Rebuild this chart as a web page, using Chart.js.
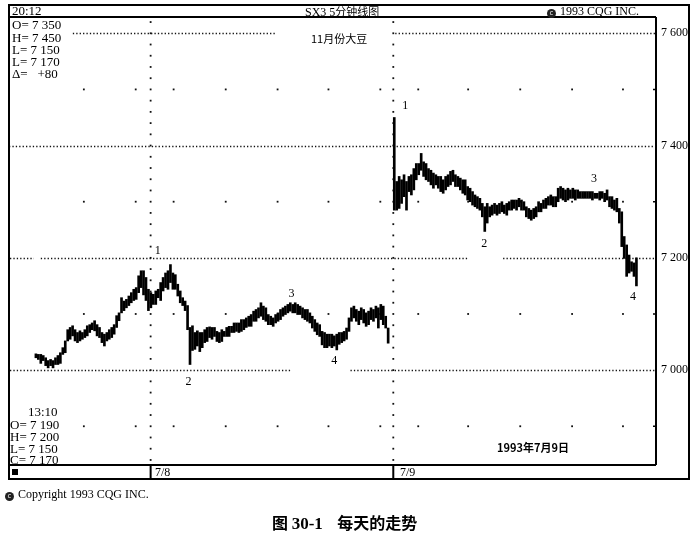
<!DOCTYPE html>
<html><head><meta charset="utf-8">
<script src="https://cdn.jsdelivr.net/npm/chart.js@4"></script>
<style>
html,body{margin:0;padding:0;background:#fff;}
#wrap{position:relative;width:696px;height:540px;overflow:hidden;background:#fff;}
canvas{position:absolute;left:0;top:0;}
.t{position:absolute;white-space:nowrap;font-family:"Liberation Serif","Times New Roman",serif;color:#000;font-size:12px;line-height:14px;}
.cjk{font-family:"Noto Sans CJK SC",sans-serif;}
.ci{display:inline-block;width:9px;height:9px;border-radius:50%;background:#222;color:#fff;font-size:7px;line-height:9px;text-align:center;vertical-align:0px;font-family:"DejaVu Sans",sans-serif;margin-right:4px;}
.wl{position:absolute;font-family:"Liberation Serif",serif;font-size:12px;color:#000;line-height:12px;transform:translate(-50%,-50%);}
</style></head>
<body><div id="wrap">
<canvas id="c" width="696" height="540"></canvas>
<div class="t" style="left:12px;top:4px;font-size:13px;">20:12</div>
<div class="t" style="left:305px;top:4px;">SX3 5<span class="cjk" style="font-size:11px">分钟线图</span></div>
<div class="t" style="left:547px;top:4px;"><span class="ci">c</span>1993 CQG INC.</div>
<div class="t" style="left:12px;top:18px;font-size:13px;">O= 7 350</div>
<div class="t" style="left:12px;top:31px;font-size:13px;">H= 7 450</div>
<div class="t" style="left:12px;top:43px;font-size:13px;">L= 7 150</div>
<div class="t" style="left:12px;top:55px;font-size:13px;">L= 7 170</div>
<div class="t" style="left:12px;top:67px;font-size:13px;">&Delta;=&nbsp;&nbsp;&nbsp;+80</div>
<div class="t cjk" style="left:311px;top:31px;font-size:11px;">11月份大豆</div>
<div class="t" style="left:28px;top:405px;font-size:13px;">13:10</div>
<div class="t" style="left:10px;top:418px;font-size:13px;">O= 7 190</div>
<div class="t" style="left:10px;top:430px;font-size:13px;">H= 7 200</div>
<div class="t" style="left:10px;top:442px;font-size:13px;">L= 7 150</div>
<div class="t" style="left:10px;top:453px;font-size:13px;">C= 7 170</div>
<div class="t cjk" style="left:497px;top:440px;font-size:11px;font-weight:bold;">1993年7月9日</div>
<div class="t" style="left:155px;top:465px;">7/8</div>
<div class="t" style="left:400px;top:465px;">7/9</div>
<div class="t" style="left:5px;top:487px;font-size:12px;"><span class="ci">c</span>Copyright 1993 CQG INC.</div>
<div class="t cjk" style="left:272px;top:512px;font-size:16px;line-height:20px;font-weight:bold;">图 <span style="font-family:'Liberation Serif',serif;font-size:17px;">30-1</span>&nbsp;&nbsp;&nbsp;&nbsp;每天的走势</div>
</div>
<script>
// ---- data ----
const day1High = [7029,7028,7028,7026,7022,7017,7019,7017,7022,7026,7031,7040,7052,7072,7076,7079,7072,7067,7070,7067,
7072,7079,7081,7084,7088,7081,7076,7067,7064,7067,7072,7076,7081,7097,7102,7129,7123,7126,7132,7138,
7144,7147,7168,7177,7177,7165,7144,7138,7135,7141,7144,7156,7165,7173,7177,7188,7173,7170,7153,7141,
7129,7123,7115,7076,7079,7067,7070,7067,7067,7072,7076,7077,7076,7076,7069,7067,7072,7069,7076,7078,
7078,7084,7084,7084,7090,7090,7093,7096,7099,7105,7108,7111,7120,7114,7111,7099,7096,7093,7099,7102,
7108,7111,7114,7117,7120,7117,7120,7117,7114,7111,7108,7108,7102,7096,7090,7084,7081,7069,7067,7064,
7064,7064,7061,7064,7067,7067,7069,7075,7093,7111,7114,7108,7105,7111,7108,7102,7105,7111,7108,7114,
7111,7117,7114,7096,7075];
const day1Low = [7022,7019,7012,7017,7008,7004,7008,7004,7010,7010,7012,7028,7031,7052,7055,7061,7052,7049,7052,7055,
7058,7061,7067,7072,7070,7061,7058,7049,7043,7052,7055,7058,7064,7076,7088,7102,7106,7111,7115,7120,
7124,7126,7138,7147,7134,7124,7106,7111,7117,7117,7129,7124,7141,7147,7144,7156,7144,7144,7132,7120,
7115,7106,7072,7010,7035,7037,7043,7033,7040,7049,7051,7058,7055,7060,7051,7049,7051,7060,7060,7060,
7067,7067,7069,7067,7069,7072,7076,7078,7078,7087,7087,7093,7096,7090,7087,7081,7081,7078,7084,7087,
7090,7096,7099,7102,7105,7102,7102,7099,7099,7093,7090,7087,7084,7075,7069,7063,7060,7045,7040,7040,
7043,7040,7043,7036,7046,7049,7052,7055,7069,7087,7093,7087,7081,7090,7084,7078,7081,7090,7087,7093,
7075,7090,7081,7075,7048];
const day2High = [7450,7336,7345,7339,7348,7336,7345,7348,7359,7368,7368,7386,7371,7368,7359,7356,7351,7348,7345,7345,
7339,7345,7348,7354,7356,7348,7345,7342,7339,7339,7327,7324,7318,7312,7309,7306,7297,7291,7297,7291,
7294,7297,7294,7297,7300,7294,7297,7300,7303,7303,7303,7306,7303,7300,7291,7288,7285,7288,7291,7300,
7297,7303,7306,7309,7312,7309,7309,7324,7327,7324,7321,7324,7321,7324,7321,7321,7318,7318,7318,7318,
7318,7318,7315,7315,7318,7318,7315,7321,7309,7309,7303,7306,7288,7282,7238,7223,7205,7193,7191,7200];
const day2Low = [7285,7285,7288,7297,7309,7285,7318,7312,7321,7339,7348,7356,7345,7339,7336,7330,7324,7330,7324,7318,
7315,7321,7327,7330,7336,7327,7327,7321,7315,7312,7303,7300,7294,7291,7288,7285,7273,7247,7262,7273,
7276,7279,7276,7279,7282,7279,7276,7285,7285,7288,7285,7291,7285,7285,7273,7270,7267,7270,7273,7282,
7282,7288,7288,7294,7294,7291,7291,7300,7306,7303,7300,7303,7306,7306,7303,7306,7306,7306,7306,7306,
7306,7303,7306,7306,7303,7306,7300,7303,7291,7288,7285,7282,7262,7220,7199,7167,7173,7176,7167,7150];
const yTickValues = [7000, 7200, 7400, 7600];
const minorPriceRows = [6900, 7100, 7300, 7500];
const timeGridSlots = [19.6, 40.8, 56.3, 77.6, 98.8, 119.6, 140.8, 156.3, 176.7, 198.0, 219.2, 240.0];
const sessionSeparators = [46.9, 146.1];
const day2StartSlot = 146.5;
const waveLabels = ["1", "2", "3", "4", "1", "2", "3", "4"];
const waveLabelSlots = [49.8, 62.4, 104.5, 122, 151, 183.3, 228.2, 244.1];
const waveLabelPrices = [7214, 6981, 7138, 7018, 7472, 7227, 7343, 7132];

// ---- build ----
const bars = day1High.map((h, i) => ({x: i, y: [day1Low[i], h]}))
  .concat(day2High.map((h, j) => ({x: day2StartSlot + j, y: [day2Low[j], h]})));

const gridSegments = [
  {v: 7600, segs: [[15.1, 98], [146.9, 253.5]]},
  {v: 7400, segs: [[-11, 253.5]]},
  {v: 7200, segs: [[-10.6, -0.8], [2.0, 176.3], [191, 253.5]]},
  {v: 7000, segs: [[-10.6, 104], [128.6, 253.5]]}
];
const fmt = v => String(v).replace(/(\d)(\d{3})$/, '$1 $2');

const gridPlugin = {
  id: 'cqgGrid',
  beforeDatasetsDraw(chart) {
    const {ctx, scales: {x, y}} = chart;
    ctx.save();
    ctx.strokeStyle = '#111';
    ctx.lineWidth = 1.3;
    ctx.setLineDash([1.3, 2.1]);
    gridSegments.forEach(g => {
      const py = Math.round(y.getPixelForValue(g.v)) + 0.5;
      g.segs.forEach(([s0, s1]) => {
        ctx.beginPath();
        ctx.moveTo(x.getPixelForValue(s0), py);
        ctx.lineTo(x.getPixelForValue(s1), py);
        ctx.stroke();
      });
    });
    ctx.setLineDash([]);
    ctx.fillStyle = '#111';
    minorPriceRows.forEach(p => {
      const py = y.getPixelForValue(p);
      timeGridSlots.forEach(s => ctx.fillRect(x.getPixelForValue(s) - 0.9, py - 0.9, 1.8, 1.8));
    });
    sessionSeparators.forEach(s => {
      const px = x.getPixelForValue(s);
      for (let p = 6840; p <= 7620; p += 20) {
        ctx.fillRect(px - 0.9, y.getPixelForValue(p) - 0.9, 1.8, 1.8);
      }
    });
    ctx.restore();
  },
  afterDraw(chart) {
    const {ctx, chartArea: a, scales: {x, y}} = chart;
    const top = a.top - 12, bot = a.bottom + 14, right = a.right + 33;
    ctx.save();
    ctx.strokeStyle = '#000';
    ctx.lineWidth = 2;
    ctx.beginPath();
    ctx.rect(a.left, top, right - a.left, bot - top);
    ctx.moveTo(a.left, a.top); ctx.lineTo(a.right, a.top);
    ctx.moveTo(a.right, a.top); ctx.lineTo(a.right, a.bottom);
    ctx.moveTo(a.left, a.bottom); ctx.lineTo(a.right, a.bottom);
    sessionSeparators.forEach(s => {
      const px = x.getPixelForValue(s);
      ctx.moveTo(px, a.bottom); ctx.lineTo(px, bot);
    });
    ctx.stroke();
    ctx.lineWidth = 1.5;
    ctx.beginPath();
    minorPriceRows.forEach(p => {
      const py = y.getPixelForValue(p);
      ctx.moveTo(a.right - 3, py); ctx.lineTo(a.right, py);
    });
    ctx.stroke();
    ctx.fillStyle = '#000';
    ctx.fillRect(a.left + 3, a.bottom + 4, 6, 6);
    ctx.restore();
    if (!chart._wl) {
      chart._wl = true;
      const wrap = document.getElementById('wrap');
      waveLabels.forEach((t, i) => {
        const d = document.createElement('div');
        d.className = 'wl';
        d.textContent = t;
        d.style.left = x.getPixelForValue(waveLabelSlots[i]) + 'px';
        d.style.top = y.getPixelForValue(waveLabelPrices[i]) + 'px';
        wrap.appendChild(d);
      });
    }
  }
};

new Chart(document.getElementById('c'), {
  type: 'bar',
  data: {datasets: [{data: bars, backgroundColor: '#000', borderWidth: 0, barThickness: 2}]},
  options: {
    responsive: false,
    animation: false,
    layout: {padding: {left: 9, top: 17, right: 7, bottom: 75}},
    plugins: {legend: {display: false}, tooltip: {enabled: false}},
    scales: {
      x: {type: 'linear', min: -11, max: 253.5, display: false, offset: false},
      y: {
        position: 'right', min: 6831, max: 7629,
        grid: {display: false, drawTicks: false},
        border: {display: false},
        afterBuildTicks(s) { s.ticks = yTickValues.map(v => ({value: v})); },
        afterFit(s) { s.width = 33; },
        ticks: {padding: 5, color: '#000', font: {family: 'Liberation Serif', size: 12}, callback: v => fmt(v)}
      }
    }
  },
  plugins: [gridPlugin]
});
</script>
</body></html>
